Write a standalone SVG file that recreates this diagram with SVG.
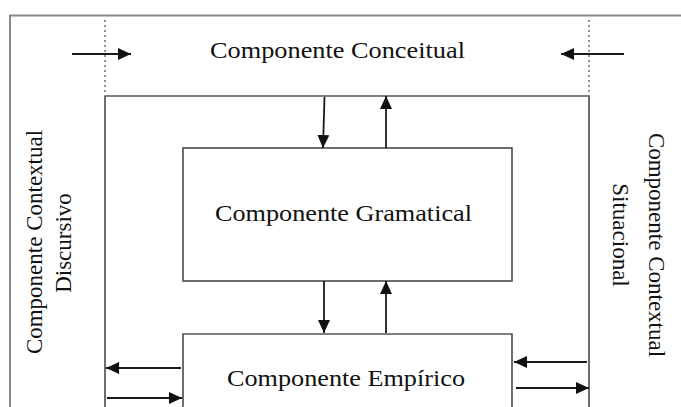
<svg xmlns="http://www.w3.org/2000/svg" width="681" height="407" viewBox="0 0 681 407">
  <style>
    .frame { fill: none; stroke: #8a8a8a; stroke-width: 2; }
    .box { fill: none; stroke: #555; stroke-width: 1.7; }
    .dots { fill: none; stroke: #666; stroke-width: 1.4; stroke-dasharray: 2 3; }
    .arrow { fill: none; stroke: #1a1a1a; stroke-width: 1.8; marker-end: url(#head); }
    .lbl { font-family: "Liberation Serif", "Times New Roman", serif; font-size: 23px; fill: #111; }
  </style>
  <defs>
    <marker id="head" markerUnits="userSpaceOnUse" markerWidth="16" markerHeight="14" refX="13" refY="6" orient="auto">
      <path d="M0,0 L13,6 L0,12 Z" fill="#111"/>
    </marker>
  </defs>

  <!-- outer frame, open to the right and bottom -->
  <path class="frame" d="M10,407 V15.5 H681"/>

  <!-- dotted guides bounding the conceptual band -->
  <line class="dots" x1="105" y1="20" x2="105" y2="94"/>
  <line class="dots" x1="589" y1="20" x2="589" y2="94"/>

  <g id="conceitual">
    <text class="lbl" x="337.5" y="58" text-anchor="middle" textLength="255" lengthAdjust="spacingAndGlyphs">Componente Conceitual</text>
  </g>

  <g id="contextual-discursivo">
    <text class="lbl" transform="translate(42,242) rotate(-90)" text-anchor="middle">Componente Contextual</text>
    <text class="lbl" transform="translate(71,243) rotate(-90)" text-anchor="middle">Discursivo</text>
  </g>

  <g id="contextual-situacional">
    <text class="lbl" transform="translate(649,245) rotate(90)" text-anchor="middle">Componente Contextual</text>
    <text class="lbl" transform="translate(613,235) rotate(90)" text-anchor="middle">Situacional</text>
  </g>

  <!-- inner frame, open at the bottom -->
  <g id="inner-frame">
    <path class="box" d="M105,407 V96 H589 V407"/>
  </g>

  <g id="gramatical">
    <rect class="box" x="183" y="148" width="329" height="133"/>
    <text class="lbl" x="343.5" y="221" text-anchor="middle" textLength="257" lengthAdjust="spacingAndGlyphs">Componente Gramatical</text>
  </g>

  <g id="empirico">
    <path class="box" d="M183,407 V334 H512 V407"/>
    <text class="lbl" x="346" y="386" text-anchor="middle" textLength="238" lengthAdjust="spacingAndGlyphs">Componente Empírico</text>
  </g>

  <g id="connectors">
    <line class="arrow" x1="72" y1="54" x2="131" y2="54"/>
    <line class="arrow" x1="624" y1="54" x2="561" y2="54"/>
    <line class="arrow" x1="324.5" y1="97" x2="323" y2="148"/>
    <line class="arrow" x1="386" y1="148" x2="386" y2="96"/>
    <line class="arrow" x1="324" y1="281" x2="324" y2="333"/>
    <line class="arrow" x1="386" y1="333" x2="386" y2="281"/>
    <line class="arrow" x1="181" y1="368" x2="106" y2="368"/>
    <line class="arrow" x1="107" y1="398" x2="182" y2="398"/>
    <line class="arrow" x1="587" y1="362" x2="514" y2="362"/>
    <line class="arrow" x1="516" y1="388" x2="589" y2="388"/>
  </g>
</svg>
